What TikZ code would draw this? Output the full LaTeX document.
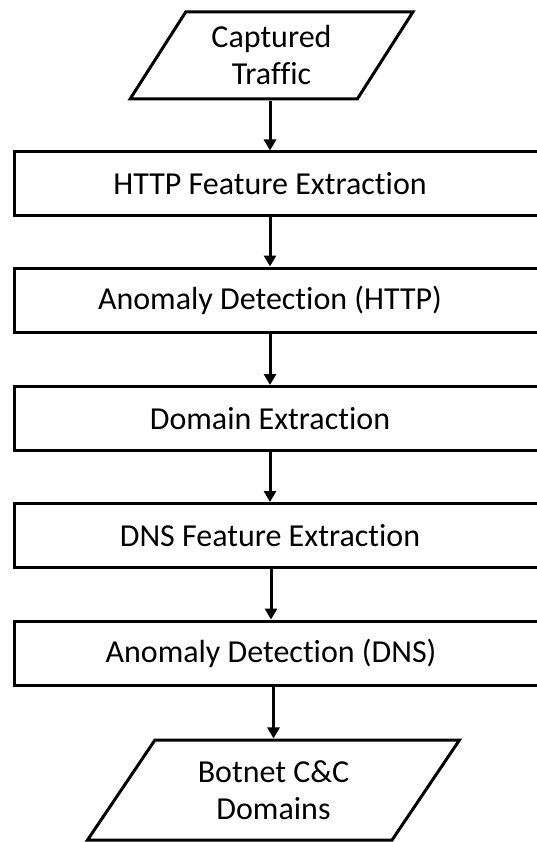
\documentclass[tikz,border=0pt]{standalone}
\usepackage{fontspec}
\setmainfont{Carlito}[Ligatures=NoCommon]
\usetikzlibrary{shapes.geometric,arrows.meta}

\tikzset{
  stage/.style={draw, line width=3pt, rectangle, anchor=west,
    minimum width=560pt, minimum height=64pt, inner sep=0pt},
  caption/.style={font=\fontsize{32}{37}\selectfont, inner sep=0pt, align=center},
  io/.style={draw, line width=3pt, trapezium, trapezium stretches=true,
    inner sep=0pt, font=\fontsize{32}{37}\selectfont, align=center},
  flow/.style={line width=3pt, -{Triangle[length=11pt,width=12pt]}},
}

\begin{document}
\begin{tikzpicture}[x=1pt,y=-1pt]
  \path[use as bounding box, clip] (0,0) rectangle (537,842);

  % input and output data
  \node[io, trapezium left angle=56.8, trapezium right angle=123.2,
        minimum width=283pt, minimum height=87pt] (src) at (271.5,55.5)
        {Captured\\Traffic};
  \node[io, trapezium left angle=53.9, trapezium right angle=126.1,
        minimum width=373pt, minimum height=100pt] (out) at (273.5,790)
        {Botnet C\&C\\Domains};

  % processing stages (right side runs past the page edge)
  \node[stage] (b1) at (13,184) {};
  \node[stage] (b2) at (13,300) {};
  \node[stage] (b3) at (13,418.5) {};
  \node[stage] (b4) at (13,535.5) {};
  \node[stage] (b5) at (13,653) {};

  \node[caption] (t1) at (270,184) {HTTP Feature Extraction};
  \node[caption] (t2) at (270,300) {Anomaly Detection (HTTP)};
  \node[caption] (t3) at (270,418.5) {Domain Extraction};
  \node[caption] (t4) at (270,535.5) {DNS Feature Extraction};
  \node[caption] (t5) at (271,653) {Anomaly Detection (DNS)};

  % connectors
  \draw[flow] (src.south -| t1) -- (t1 |- b1.north);
  \draw[flow] (t1 |- b1.south) -- (t1 |- b2.north);
  \draw[flow] (t1 |- b2.south) -- (t1 |- b3.north);
  \draw[flow] (t1 |- b3.south) -- (t1 |- b4.north);
  \draw[flow] (t5 |- b4.south) -- (t5 |- b5.north);
  \draw[flow] (out.north |- b5.south) -- (out.north);
\end{tikzpicture}
\end{document}
